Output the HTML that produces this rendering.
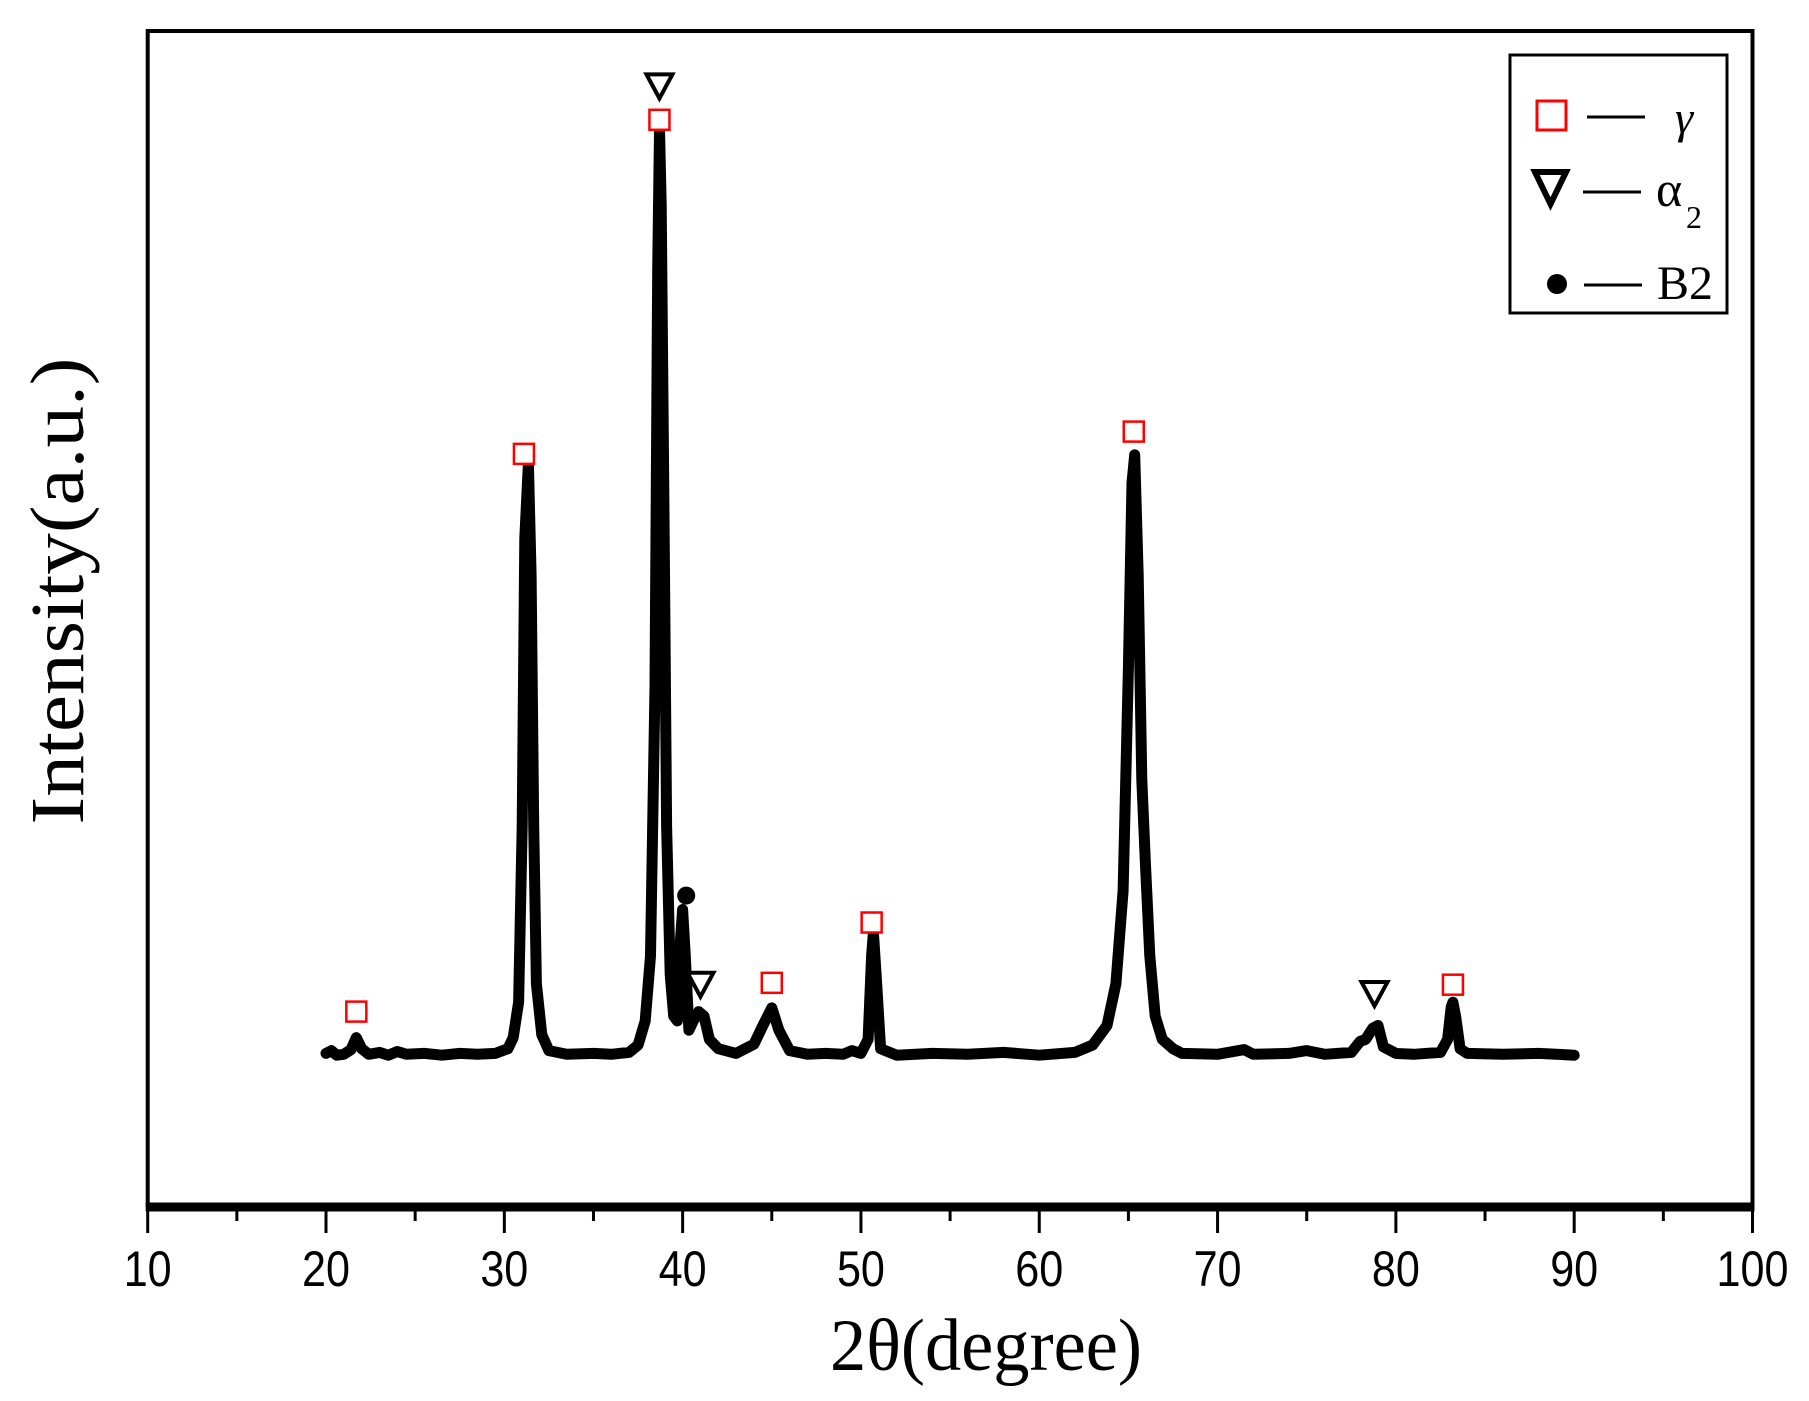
<!DOCTYPE html>
<html><head><meta charset="utf-8"><style>
html,body{margin:0;padding:0;background:#fff}
svg{display:block}
</style></head><body>
<svg id="chart" width="1809" height="1401" viewBox="0 0 1809 1401" xmlns="http://www.w3.org/2000/svg">
<rect x="0" y="0" width="1809" height="1401" fill="#fff"/>
<g id="plot"></g>
<g id="axes"></g>
<text x="986" y="1370" text-anchor="middle" font-family="Liberation Serif, serif" font-size="74" textLength="312" lengthAdjust="spacingAndGlyphs">2θ(degree)</text>
<text transform="translate(83,591) rotate(-90)" text-anchor="middle" font-family="Liberation Serif, serif" font-size="76" textLength="467" lengthAdjust="spacingAndGlyphs">Intensity(a.u.)</text>
<g>
<rect x="1510" y="55" width="217" height="258" fill="#fff" stroke="#000" stroke-width="3"/>
<g>
<rect x="1537" y="101" width="29" height="29" fill="none" stroke="#f00" stroke-width="3"/>
<line x1="1587" y1="117" x2="1645" y2="117" stroke="#000" stroke-width="3"/>
<text x="1675" y="133" font-family="Liberation Serif, serif" font-style="italic" font-size="46">γ</text>
</g>
<g>
<polygon points="1535,172 1566,172 1550.5,204" fill="none" stroke="#000" stroke-width="6" stroke-linejoin="miter"/>
<line x1="1583" y1="192" x2="1641" y2="192" stroke="#000" stroke-width="3"/>
<text x="1656" y="206" font-family="Liberation Serif, serif" font-size="50">α</text>
<text x="1686" y="228" font-family="Liberation Serif, serif" font-size="32">2</text>
</g>
<g>
<circle cx="1557" cy="284" r="10" fill="#000"/>
<line x1="1584" y1="285" x2="1642" y2="285" stroke="#000" stroke-width="3"/>
<text x="1657" y="299" font-family="Liberation Serif, serif" font-size="48">B2</text>
</g>
</g>
</svg>
<script>
const twoTheta = [20.0,20.3,20.6,21.0,21.4,21.7,22.0,22.4,23.0,23.5,24.0,24.5,25.5,26.5,27.5,28.5,29.5,30.2,30.5,30.8,31.0,31.15,31.35,31.5,31.65,31.8,32.1,32.5,33.5,35,36,37,37.5,37.9,38.2,38.45,38.6,38.7,38.8,38.95,39.1,39.3,39.5,39.7,39.85,40.0,40.15,40.35,40.6,40.9,41.2,41.5,42,43,44,44.5,45.0,45.4,46,47,48,49,49.5,50.0,50.4,50.6,50.7,50.85,51.1,52,54,56,58,60,62,63,63.8,64.3,64.7,65.0,65.2,65.35,65.55,65.75,65.95,66.2,66.5,66.9,67.5,68,70,71.5,72,74,75,76,77.5,78.0,78.3,78.7,79.0,79.3,80,81,82.5,82.9,83.1,83.2,83.35,83.6,84,86,88,89,90];
const intensity = [5,8,3,4,9,22,10,4,6,3,7,4,5,3,5,4,5,10,22,60,250,560,641,520,250,80,25,8,4,5,4,6,14,40,110,400,850,1000,920,600,250,90,45,40,120,160,110,30,40,50,45,20,10,5,15,35,54,30,8,4,5,4,8,5,20,110,135,90,10,3,5,4,6,3,6,14,35,80,180,420,620,650,520,300,210,110,45,20,10,5,4,9,4,5,8,4,6,18,20,32,35,12,5,4,6,20,55,60,45,10,5,4,5,4,3];
const xTicks = [10,20,30,40,50,60,70,80,90,100];
const gammaMarks = [[21.7,50],[31.1,651],[38.7,1011],[45.0,81],[50.6,146],[65.3,675],[83.2,79]];
const alphaMarks = [[38.7,1047],[41.0,79],[78.8,69]];
const b2Marks = [[40.2,175]];

const X0=147.7, X1=1752.5, YB=1058, YT=130;
const xs = d => X0 + (d-10)/90*(X1-X0);
const ys = v => YB - v/1000*(YB-YT);
const NS='http://www.w3.org/2000/svg';
function mk(tag, attrs, parent){const e=document.createElementNS(NS,tag);for(const k in attrs)e.setAttribute(k,attrs[k]);parent.appendChild(e);return e;}
const plot=document.getElementById('plot'), axes=document.getElementById('axes');

let d='';
twoTheta.forEach((t,i)=>{d+=(i?'L':'M')+xs(t).toFixed(1)+','+ys(intensity[i]).toFixed(1);});
const line=mk('path',{d:d,fill:'none',stroke:'#000','stroke-width':11,'stroke-linejoin':'round','stroke-linecap':'round'},plot);



gammaMarks.forEach(m=>{
 const r=mk('rect',{x:xs(m[0])-10,y:ys(m[1])-10,width:20,height:20,fill:'#fff',stroke:'#f00','stroke-width':2.5},plot);
 
 
});
alphaMarks.forEach(m=>{
 const cx=xs(m[0]), cy=ys(m[1]);
 const p=mk('polygon',{points:`${cx-13},${cy-12} ${cx+13},${cy-12} ${cx},${cy+12}`,fill:'#fff',stroke:'#000','stroke-width':4},plot);
 
 
});
b2Marks.forEach(m=>{
 const c=mk('circle',{cx:xs(m[0]),cy:ys(m[1]),r:9,fill:'#000'},plot);
 
 
});

const frame=mk('path',{d:`M${X0},1207 L${X0},31 L${X1},31 L${X1},1207`,fill:'none',stroke:'#000','stroke-width':4},axes);


const xaxis=mk('line',{x1:X0-2,y1:1207,x2:X1+2,y2:1207,stroke:'#000','stroke-width':9},axes);


for(let i=0;i<xTicks.length;i++){
 const t=xTicks[i], x=xs(t);
 const tk=mk('line',{x1:x,y1:1207,x2:x,y2:1233,stroke:'#000','stroke-width':3},axes);
 
 
 const s=String(t);
 const lb=mk('text',{x:x,y:1286,'text-anchor':'middle','font-family':'Liberation Sans, sans-serif','font-size':50,textLength:(s.length*24),lengthAdjust:'spacingAndGlyphs'},axes);
 lb.textContent=s;
 
 
 if(i<xTicks.length-1){
  const xm=xs((t+xTicks[i+1])/2);
  const mt=mk('line',{x1:xm,y1:1207,x2:xm,y2:1221,stroke:'#000','stroke-width':3},axes);
  
  
 }
}
</script>
</body></html>
